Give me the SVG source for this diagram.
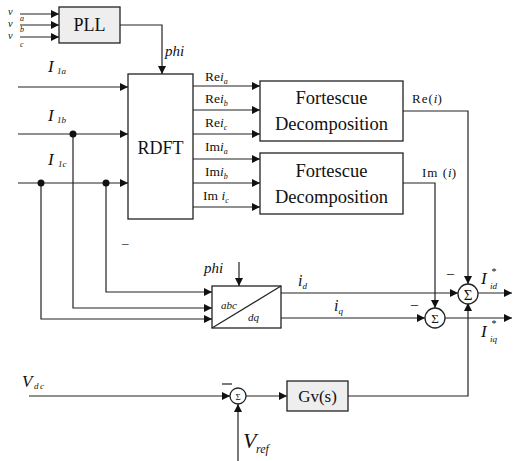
<svg xmlns="http://www.w3.org/2000/svg" width="513" height="461" viewBox="0 0 513 461">
<defs>
<marker id="ah" viewBox="0 0 10 10" refX="10" refY="5" markerWidth="8" markerHeight="8" markerUnits="userSpaceOnUse" orient="auto">
<path d="M0,0 L10,5 L0,10 z" fill="#111"/>
</marker>
</defs>
<style>
.ln{fill:none;stroke:#222;stroke-width:1.2}
.ar{fill:none;stroke:#222;stroke-width:1.2;marker-end:url(#ah)}
.box{fill:#fff;stroke:#222;stroke-width:1.3}
.gbox{fill:#eeeeee;stroke:#222;stroke-width:1.3}
.t{font-family:"Liberation Serif",serif;fill:#111}
.it{font-family:"Liberation Serif",serif;font-style:italic;fill:#111}
.dot{fill:#111}
</style>
<rect width="513" height="461" fill="#fff"/>

<g id="connectors">
<path class="ar" d="M20,14 H59"/>
<path class="ar" d="M20,25 H59"/>
<path class="ar" d="M20,37 H59"/>
<path class="ar" d="M120,25 H162 V74"/>
<path class="ar" d="M18,87 H128"/>
<path class="ar" d="M18,134 H128"/>
<path class="ar" d="M18,183 H128"/>
<path class="ar" d="M106,183 V292 H212"/>
<path class="ar" d="M73,134 V308 H212"/>
<path class="ar" d="M41,183 V319 H212"/>
<path class="ar" d="M193,86 H260"/>
<path class="ar" d="M193,110 H260"/>
<path class="ar" d="M193,134 H260"/>
<path class="ar" d="M193,159 H260"/>
<path class="ar" d="M193,183 H260"/>
<path class="ar" d="M193,207 H260"/>
<path class="ar" d="M403,111 H468 V284"/>
<path class="ar" d="M403,183 H435 V308"/>
<path class="ar" d="M239,262 V286"/>
<path class="ar" d="M281,293 H458"/>
<path class="ar" d="M281,318 H425"/>
<path class="ar" d="M478,293 H512"/>
<path class="ar" d="M445,318 H512"/>
<path class="ar" d="M29,396 H230"/>
<path class="ar" d="M246,396 H287"/>
<path class="ar" d="M238,461 V404"/>
<path class="ar" d="M348,396 H468 V303"/>
</g>

<g id="dots">
<circle class="dot" cx="73" cy="134" r="3.5"/>
<circle class="dot" cx="41" cy="183" r="3.5"/>
<circle class="dot" cx="106" cy="183" r="3.5"/>
</g>

<g id="pll">
<rect class="gbox" x="59" y="7" width="61" height="36"/>
<text class="t" x="89.5" y="31" font-size="18" text-anchor="middle">PLL</text>
</g>

<g id="v-labels">
<text class="it" x="8" y="14.5" font-size="10.5">v</text>
<text class="it" x="20" y="21" font-size="8">a</text>
<text class="it" x="8" y="26.5" font-size="10.5">v</text>
<text class="it" x="20" y="32" font-size="8">b</text>
<text class="it" x="8" y="38.5" font-size="10.5">v</text>
<text class="it" x="20" y="47" font-size="8">c</text>
</g>

<g id="rdft">
<rect class="box" x="128" y="74" width="65" height="145"/>
<text class="t" x="160.5" y="154" font-size="18" text-anchor="middle">RDFT</text>
</g>

<g id="rdft-labels">
<text x="205" y="81" font-size="13.5"><tspan class="t">Re</tspan><tspan class="it">i</tspan><tspan class="it" font-size="8" dy="3">a</tspan></text>
<text x="205" y="103" font-size="13.5"><tspan class="t">Re</tspan><tspan class="it">i</tspan><tspan class="it" font-size="8" dy="3">b</tspan></text>
<text x="205" y="127" font-size="13.5"><tspan class="t">Re</tspan><tspan class="it">i</tspan><tspan class="it" font-size="8" dy="3">c</tspan></text>
<text x="205" y="151" font-size="13.5"><tspan class="t">Im</tspan><tspan class="it">i</tspan><tspan class="it" font-size="8" dy="3">a</tspan></text>
<text x="205" y="176" font-size="13.5"><tspan class="t">Im</tspan><tspan class="it">i</tspan><tspan class="it" font-size="8" dy="3">b</tspan></text>
<text x="203" y="200" font-size="13.5"><tspan class="t">Im </tspan><tspan class="it">i</tspan><tspan class="it" font-size="8" dy="3">c</tspan></text>
</g>

<g id="i-labels">
<text class="it" x="48" y="72" font-size="17">I</text>
<text class="it" x="57" y="74" font-size="9">1a</text>
<text class="it" x="48" y="121" font-size="17">I</text>
<text class="it" x="57" y="123" font-size="9">1b</text>
<text class="it" x="48" y="165" font-size="17">I</text>
<text class="it" x="58" y="167" font-size="9">1c</text>
<text class="it" x="165" y="56" font-size="15">phi</text>
</g>

<g id="fortescue1">
<rect class="box" x="260" y="81" width="143" height="60"/>
<text class="t" x="331.5" y="104" font-size="18.5" text-anchor="middle">Fortescue</text>
<text class="t" x="331.5" y="130" font-size="18.5" text-anchor="middle">Decomposition</text>
</g>

<g id="fortescue2">
<rect class="box" x="260" y="153" width="143" height="61"/>
<text class="t" x="331.5" y="177" font-size="18.5" text-anchor="middle">Fortescue</text>
<text class="t" x="331.5" y="203" font-size="18.5" text-anchor="middle">Decomposition</text>
</g>

<g id="fortescue-labels">
<text x="412" y="103" font-size="13"><tspan class="t" letter-spacing="1">Re(</tspan><tspan class="it">i</tspan><tspan class="t">)</tspan></text>
<text x="422" y="177" font-size="13"><tspan class="t" letter-spacing="1">Im (</tspan><tspan class="it">i</tspan><tspan class="t">)</tspan></text>
</g>

<g id="minus-stray">
<text class="t" x="122" y="247" font-size="13">–</text>
</g>

<g id="abcdq">
<rect class="box" x="212" y="286" width="69" height="42"/>
<path class="ln" d="M212,328 L281,286"/>
<text class="it" x="221" y="309" font-size="11">abc</text>
<text class="it" x="248" y="321" font-size="11">dq</text>
<text class="it" x="204" y="273" font-size="15">phi</text>
</g>

<g id="dq-labels">
<text x="298" y="286" font-size="16"><tspan class="it">i</tspan><tspan class="it" font-size="9" dy="3">d</tspan></text>
<text x="334" y="311" font-size="16"><tspan class="it">i</tspan><tspan class="it" font-size="9" dy="3">q</tspan></text>
</g>

<g id="sum1">
<circle class="box" cx="468" cy="294" r="10"/>
<text class="t" x="468" y="300" font-size="15" text-anchor="middle">Σ</text>
<text class="t" x="447" y="278" font-size="14">–</text>
</g>

<g id="sum2">
<circle class="box" cx="435" cy="318" r="10"/>
<text class="t" x="435" y="323" font-size="13" text-anchor="middle">Σ</text>
<text class="t" x="411" y="309" font-size="14">–</text>
</g>

<g id="out-labels">
<text class="it" x="481" y="284" font-size="17">I</text>
<text class="it" x="491" y="275" font-size="10">*</text>
<text class="it" x="490" y="289" font-size="9">id</text>
<text class="it" x="481" y="337" font-size="17">I</text>
<text class="it" x="491" y="327" font-size="10">*</text>
<text class="it" x="490" y="342" font-size="9">iq</text>
</g>

<g id="sum3">
<circle class="box" cx="238" cy="396" r="8"/>
<text class="t" x="238" y="400" font-size="9" text-anchor="middle">Σ</text>
<path class="ln" d="M222,384 H232"/>
</g>

<g id="gv">
<rect class="gbox" x="287" y="381" width="61" height="30"/>
<text class="t" x="317.5" y="402" font-size="17" text-anchor="middle">Gv(s)</text>
</g>

<g id="v-dc-labels">
<text class="it" x="22" y="387" font-size="17">V</text>
<text class="it" x="34" y="389" font-size="9" letter-spacing="1.5">dc</text>
<text class="it" x="243" y="448" font-size="22">V</text>
<text class="it" x="256" y="453" font-size="12">ref</text>
</g>
</svg>
